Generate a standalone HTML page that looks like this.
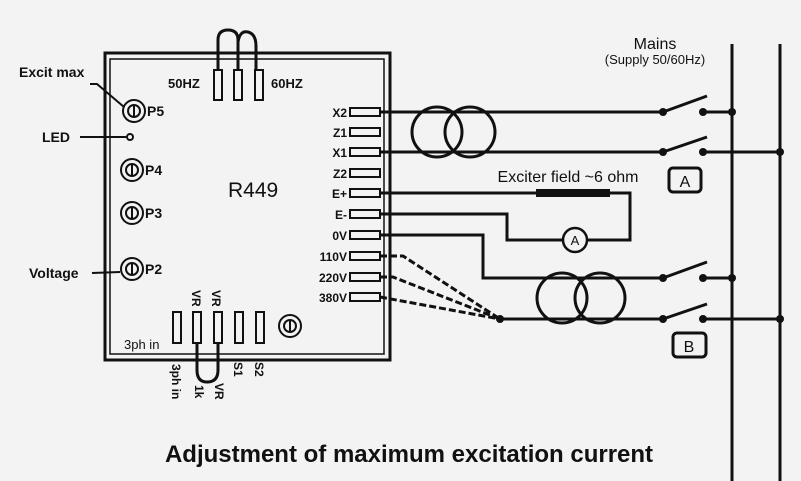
<!DOCTYPE html>
<html><head><style>
html,body{margin:0;padding:0;background:#f3f3f3;}
svg{display:block;font-family:"Liberation Sans",Arial,sans-serif;}
</style></head><body>
<svg width="801" height="481" viewBox="0 0 801 481" xmlns="http://www.w3.org/2000/svg">
<rect width="801" height="481" fill="#f3f3f3"/>
<g fill="none" stroke="#111" stroke-width="3">
<rect x="105" y="53" width="285" height="307"/>
</g>
<rect x="110" y="59" width="274" height="295" fill="none" stroke="#111" stroke-width="1.5"/>
<g fill="none" stroke="#111" stroke-width="3">
<path d="M218 70 V40 Q218 30 228 30 Q238 30 238 40 V70"/>
<path d="M238 42 Q240 30 248 32 Q256 34 256 46 V70"/>
</g>
<g fill="#f3f3f3" stroke="#111" stroke-width="2">
<rect x="214" y="70" width="8" height="30"/>
<rect x="234" y="70" width="8" height="30"/>
<rect x="255" y="70" width="8" height="30"/>
</g>
<g font-size="13" font-weight="bold" fill="#111">
<text x="168" y="88">50HZ</text>
<text x="271" y="88">60HZ</text>
<text x="228" y="197" font-size="21" font-weight="normal">R449</text>
</g>
<g fill="#f3f3f3" stroke="#111" stroke-width="2">
<circle cx="134" cy="111" r="11"/><circle cx="134" cy="111" r="6"/>
<circle cx="132" cy="170" r="11"/><circle cx="132" cy="170" r="6"/>
<circle cx="132" cy="213" r="11"/><circle cx="132" cy="213" r="6"/>
<circle cx="132" cy="269" r="11"/><circle cx="132" cy="269" r="6"/>
<circle cx="130" cy="137" r="3"/>
<circle cx="290" cy="326" r="11"/><circle cx="290" cy="326" r="6"/>
</g>
<g stroke="#111" stroke-width="2">
<line x1="134" y1="105" x2="134" y2="117"/><line x1="132" y1="164" x2="132" y2="176"/>
<line x1="132" y1="207" x2="132" y2="219"/><line x1="132" y1="263" x2="132" y2="275"/>
<line x1="290" y1="320" x2="290" y2="332"/>
</g>
<g font-size="14" font-weight="bold" fill="#111">
<text x="147" y="116">P5</text><text x="145" y="175">P4</text>
<text x="145" y="218">P3</text><text x="145" y="274">P2</text>
<text x="19" y="77">Excit max</text>
<text x="42" y="142">LED</text>
<text x="29" y="278">Voltage</text>
<text x="124" y="349" font-size="13" font-weight="normal">3ph in</text>
</g>
<g stroke="#111" stroke-width="2" fill="none">
<path d="M90 84 H97 L124 107"/>
<line x1="80" y1="137" x2="126" y2="137"/>
<line x1="92" y1="273" x2="120" y2="272"/>
</g>
<g fill="#f3f3f3" stroke="#111" stroke-width="2">
<rect x="350" y="108" width="30" height="8"/><rect x="350" y="128" width="30" height="8"/>
<rect x="350" y="148" width="30" height="8"/><rect x="350" y="169" width="30" height="8"/>
<rect x="350" y="189" width="30" height="8"/><rect x="350" y="210" width="30" height="8"/>
<rect x="350" y="231" width="30" height="8"/><rect x="350" y="252" width="30" height="8"/>
<rect x="350" y="273" width="30" height="8"/><rect x="350" y="293" width="30" height="8"/>
</g>
<g font-size="12" font-weight="bold" fill="#111" text-anchor="end">
<text x="347" y="117">X2</text><text x="347" y="137">Z1</text><text x="347" y="157">X1</text>
<text x="347" y="178">Z2</text><text x="347" y="198">E+</text><text x="347" y="219">E-</text>
<text x="347" y="240">0V</text><text x="347" y="261">110V</text><text x="347" y="282">220V</text>
<text x="347" y="302">380V</text>
</g>
<path d="M197 340 V370 Q197 382 207 382 Q218 382 218 370 V340" fill="none" stroke="#111" stroke-width="3"/>
<g fill="#f3f3f3" stroke="#111" stroke-width="2">
<rect x="173" y="312" width="8" height="31"/><rect x="193" y="312" width="8" height="31"/>
<rect x="214" y="312" width="8" height="31"/><rect x="235" y="312" width="8" height="31"/>
<rect x="256" y="312" width="8" height="31"/>
</g>
<g font-size="12" font-weight="bold" fill="#111">
<text transform="translate(192,290) rotate(90)">VR</text>
<text transform="translate(212,290) rotate(90)">VR</text>
<text transform="translate(172,364) rotate(90)">3ph in</text>
<text transform="translate(195,385) rotate(90)">1k</text>
<text transform="translate(215,383) rotate(90)">VR</text>
<text transform="translate(234,362) rotate(90)">S1</text>
<text transform="translate(255,362) rotate(90)">S2</text>
</g>
<g fill="none" stroke="#111" stroke-width="3">
<path d="M380 112 H663"/>
<path d="M380 152 H663"/>
<path d="M380 193 H536"/>
<path d="M610 193 H630 V240 H587"/>
<path d="M380 214 H507 V240 H563"/>
<path d="M380 235 H483 V278 H663"/>
<path d="M500 319 H663"/>
<path d="M703 112 H732"/><path d="M703 152 H780"/>
<path d="M703 278 H732"/><path d="M703 319 H780"/>
<path d="M732 44 V481"/><path d="M780 44 V481"/>
<path d="M663 112 L707 96"/><path d="M663 152 L707 137"/>
<path d="M663 278 L707 262"/><path d="M663 319 L707 304"/>
</g>
<rect x="536" y="189" width="74" height="8" fill="#111"/>
<g fill="none" stroke="#111" stroke-width="3" stroke-dasharray="7,3">
<path d="M380 256 H403 L500 319"/>
<path d="M380 277 H393 L500 319"/>
<path d="M380 297 L500 319"/>
</g>
<g fill="none" stroke="#111" stroke-width="3">
<circle cx="437" cy="132" r="25"/><circle cx="470" cy="132" r="25"/>
<circle cx="562" cy="298" r="25"/><circle cx="600" cy="298" r="25"/>
</g>
<circle cx="575" cy="240" r="12" fill="#f3f3f3" stroke="#111" stroke-width="2.5"/>
<text x="575" y="245" font-size="13" text-anchor="middle" fill="#111">A</text>
<g fill="#111">
<circle cx="663" cy="112" r="4"/><circle cx="703" cy="112" r="4"/><circle cx="732" cy="112" r="4"/>
<circle cx="663" cy="152" r="4"/><circle cx="703" cy="152" r="4"/><circle cx="780" cy="152" r="4"/>
<circle cx="663" cy="278" r="4"/><circle cx="703" cy="278" r="4"/><circle cx="732" cy="278" r="4"/>
<circle cx="663" cy="319" r="4"/><circle cx="703" cy="319" r="4"/><circle cx="780" cy="319" r="4"/>
<circle cx="500" cy="319" r="4"/>
</g>
<g fill="none" stroke="#111" stroke-width="3">
<rect x="669" y="168" width="32" height="24" rx="4"/>
<rect x="673" y="333" width="33" height="24" rx="4"/>
</g>
<g fill="#111">
<text x="685" y="187" font-size="16" text-anchor="middle">A</text>
<text x="689" y="352" font-size="16" text-anchor="middle">B</text>
<text x="568" y="182" font-size="16" text-anchor="middle">Exciter field ~6 ohm</text>
<text x="655" y="49" font-size="16" text-anchor="middle">Mains</text>
<text x="655" y="64" font-size="13" text-anchor="middle">(Supply 50/60Hz)</text>
<text x="409" y="462" font-size="24" font-weight="bold" text-anchor="middle">Adjustment of maximum excitation current</text>
</g>
</svg>
</body></html>
